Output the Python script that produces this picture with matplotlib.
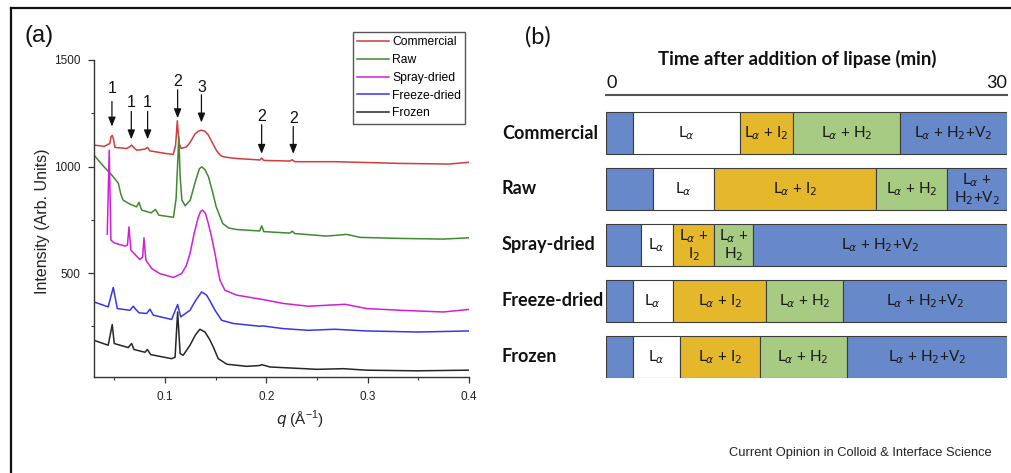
import matplotlib
matplotlib.use("Agg")
import matplotlib.pyplot as plt
from matplotlib.ticker import MultipleLocator
from matplotlib.transforms import blended_transform_factory
from matplotlib.lines import Line2D

# ---------------- Panel (a) data: SAXS curves ----------------
q_commercial = [0.030, 0.040, 0.0455, 0.0468, 0.0480, 0.0492, 0.0506, 0.0621, 0.0650, 0.0671, 0.0695, 0.0721,
                0.0803, 0.0829, 0.0850, 0.1000, 0.1082, 0.1105, 0.1122, 0.1138, 0.1160, 0.1214, 0.1250, 0.1296,
                0.1330, 0.1362, 0.1395, 0.1428, 0.1470, 0.1510, 0.1550, 0.1576, 0.1650, 0.1708, 0.1938, 0.1954,
                0.1975, 0.2230, 0.2255, 0.2280, 0.2676, 0.3320, 0.3800, 0.4000]
i_commercial = [1101, 1095, 1108, 1140, 1146, 1130, 1090, 1085, 1092, 1101, 1088, 1077,
                1082, 1090, 1074, 1062, 1057, 1100, 1215, 1110, 1085, 1093, 1115, 1153,
                1166, 1171, 1165, 1148, 1110, 1074, 1052, 1046, 1041, 1038, 1031, 1040,
                1029, 1026, 1032, 1023, 1023, 1015, 1012, 1020]

q_raw = [0.030, 0.036, 0.042, 0.048, 0.054, 0.0565, 0.0587, 0.065, 0.0720, 0.0744, 0.0770, 0.0864,
         0.0906, 0.0940, 0.1000, 0.1084, 0.1110, 0.1137, 0.1150, 0.1167, 0.1200, 0.1250, 0.1300, 0.1340,
         0.1363, 0.1395, 0.1430, 0.1470, 0.1506, 0.1570, 0.1630, 0.1703, 0.1934, 0.1955, 0.1975, 0.2231,
         0.2257, 0.2280, 0.2596, 0.2793, 0.2925, 0.3320, 0.3747, 0.4000]
i_raw = [1054, 1020, 988, 958, 922, 870, 843, 825, 811, 832, 796, 783,
         799, 772, 768, 762, 850, 1140, 950, 843, 816, 843, 930, 990,
         999, 985, 952, 880, 811, 733, 712, 705, 698, 722, 695, 688,
         697, 686, 674, 682, 668, 663, 660, 666]

q_spray = [0.0431, 0.0450, 0.0467, 0.0500, 0.0605, 0.0630, 0.0645, 0.0664, 0.0753, 0.0780, 0.0793, 0.0812,
           0.0869, 0.0950, 0.1082, 0.1165, 0.1210, 0.1247, 0.1290, 0.1330, 0.1352, 0.1372, 0.1400, 0.1428,
           0.1460, 0.1494, 0.1520, 0.1543, 0.1592, 0.1708, 0.1970, 0.2168, 0.2414, 0.2777, 0.2990, 0.3320,
           0.3747, 0.4000]
i_spray = [683, 1077, 655, 642, 627, 632, 717, 608, 564, 575, 666, 561,
           522, 498, 480, 498, 535, 592, 690, 764, 790, 796, 780, 733,
           670, 592, 520, 467, 420, 397, 376, 358, 345, 354, 334, 326,
           318, 330]

q_freeze = [0.030, 0.044, 0.0490, 0.0530, 0.0655, 0.0687, 0.0720, 0.0745, 0.0819, 0.0852, 0.0885, 0.1066,
            0.1125, 0.1155, 0.1247, 0.1300, 0.1362, 0.1411, 0.1450, 0.1494, 0.1560, 0.1675, 0.1938, 0.1960,
            0.2168, 0.2414, 0.2676, 0.2990, 0.3500, 0.4000]
i_freeze = [365, 342, 433, 334, 326, 345, 326, 314, 311, 331, 303, 283,
            353, 295, 326, 370, 412, 397, 365, 326, 279, 264, 251, 253,
            240, 232, 237, 229, 224, 229]

q_frozen = [0.030, 0.044, 0.0480, 0.0500, 0.0638, 0.0671, 0.0695, 0.0803, 0.0826, 0.0860, 0.1066, 0.1100,
            0.1125, 0.1150, 0.1180, 0.1247, 0.1300, 0.1345, 0.1395, 0.1440, 0.1477, 0.1526, 0.1610, 0.1807,
            0.1938, 0.1954, 0.2036, 0.2250, 0.2500, 0.2760, 0.2990, 0.3480, 0.4000]
i_frozen = [185, 162, 259, 170, 151, 170, 142, 129, 142, 118, 99, 106,
            318, 123, 115, 162, 210, 237, 224, 190, 154, 99, 73, 63,
            67, 71, 60, 55, 49, 52, 45, 42, 45]

series_names = ["Commercial", "Raw", "Spray-dried", "Freeze-dried", "Frozen"]
series_colors = ["#d23c3c", "#3f8a30", "#d21ed8", "#3636ee", "#262626"]

# peak annotations
ann_q = [0.0477, 0.0668, 0.0829, 0.1125, 0.1360, 0.1954, 0.2266]
ann_text = ["1", "1", "1", "2", "3", "2", "2"]
ann_text_y = [1368, 1301, 1301, 1400, 1373, 1235, 1227]
ann_tail_y = [1305, 1259, 1259, 1360, 1337, 1196, 1188]
ann_tip_y = [1188, 1128, 1128, 1227, 1207, 1060, 1060]

# ---------------- Panel (b) data: phase timeline (minutes) ----------------
rows = ["Commercial", "Raw", "Spray-dried", "Freeze-dried", "Frozen"]
dur_initial = [2.0, 3.5, 2.6, 2.0, 2.0]
dur_La = [8.0, 4.6, 2.4, 3.0, 3.5]
dur_LaI2 = [4.0, 12.1, 3.1, 7.0, 6.0]
dur_LaH2 = [8.0, 5.3, 2.9, 5.75, 6.5]
dur_LaH2V2 = [8.0, 4.5, 19.0, 12.25, 12.0]

lab_La = [r"L$_\alpha$"] * 5
lab_LaI2 = [r"L$_\alpha$ + I$_2$", r"L$_\alpha$ + I$_2$", "L$_\\alpha$ +\nI$_2$", r"L$_\alpha$ + I$_2$", r"L$_\alpha$ + I$_2$"]
lab_LaH2 = [r"L$_\alpha$ + H$_2$", r"L$_\alpha$ + H$_2$", "L$_\\alpha$ +\nH$_2$", r"L$_\alpha$ + H$_2$", r"L$_\alpha$ + H$_2$"]
lab_LaH2V2 = [r"L$_\alpha$ + H$_2$+V$_2$", "L$_\\alpha$ +\nH$_2$+V$_2$", r"L$_\alpha$ + H$_2$+V$_2$",
              r"L$_\alpha$ + H$_2$+V$_2$", r"L$_\alpha$ + H$_2$+V$_2$"]

c_blue = "#6889c9"
c_white = "#ffffff"
c_yellow = "#e5b82b"
c_green = "#a8cb83"

W, H = 1012, 473
fig = plt.figure(figsize=(W / 100, H / 100), dpi=100)

# outer frame (top and left edges visible)
fig.add_artist(Line2D([11 / W, 1.0], [1 - 8 / H, 1 - 8 / H], transform=fig.transFigure, color="#111111", lw=1.6))
fig.add_artist(Line2D([11 / W, 11 / W], [0, 1 - 8 / H], transform=fig.transFigure, color="#111111", lw=1.6))

# ---------------- Panel (a) ----------------
sans_a = "Liberation Sans"
ax = fig.add_axes([94 / W, 1 - 377 / H, (469 - 94) / W, (377 - 60) / H])
qs = [q_commercial, q_raw, q_spray, q_freeze, q_frozen]
Is = [i_commercial, i_raw, i_spray, i_freeze, i_frozen]
handles = []
for qv, iv, nm, col in zip(qs, Is, series_names, series_colors):
    ln, = ax.plot(qv, iv, color=col, lw=1.1, label=nm, solid_joinstyle="round")
    handles.append(ln)

ax.set_xlim(0.03, 0.4)
ax.set_ylim(13, 1500)
for s in ["top", "right"]:
    ax.spines[s].set_visible(False)
for s in ["left", "bottom"]:
    ax.spines[s].set_color("#333333")
    ax.spines[s].set_linewidth(1.0)
ax.xaxis.set_minor_locator(MultipleLocator(0.05))
ax.yaxis.set_minor_locator(MultipleLocator(250))
ax.set_xticks([0.1, 0.2, 0.3, 0.4])
ax.set_xticklabels(["0.1", "0.2", "0.3", "0.4"])
ax.set_yticks([500, 1000, 1500])
ax.set_yticklabels(["500", "1000", "1500"])
ax.tick_params(which="major", direction="out", length=4, width=0.9, color="#333333",
               labelsize=8.5, labelcolor="#222222", pad=6)
ax.tick_params(which="minor", direction="out", length=2.5, width=0.8, color="#333333")
for lab in ax.get_xticklabels() + ax.get_yticklabels():
    lab.set_family(sans_a)

for qa, t, ty, tt, tp in zip(ann_q, ann_text, ann_text_y, ann_tail_y, ann_tip_y):
    ax.text(qa, ty, t, ha="center", va="center", fontsize=11.5, family=sans_a, color="#111111")
    ax.annotate("", xy=(qa, tp), xytext=(qa, tt),
                arrowprops=dict(arrowstyle="-|>,head_length=0.55,head_width=0.22", color="#111111", lw=0.9,
                                shrinkA=0, shrinkB=0))

fig.legend(handles=handles, loc="upper left", bbox_to_anchor=(353 / W, 1 - 32 / H),
           prop={"family": sans_a, "size": 8.7}, frameon=True, fancybox=False, edgecolor="#555555",
           framealpha=1, handlelength=2.6, handletextpad=0.3, labelspacing=0.48, borderpad=0.35,
           borderaxespad=0)

fig.text(25 / W, 1 - 36 / H, "(a)", fontsize=17, family=sans_a, ha="left", va="center", color="#111111")
fig.text(43 / W, 1 - 221 / H, "Intensity (Arb. Units)", rotation=90, fontsize=11.5, family=sans_a,
         ha="center", va="center", color="#222222")
fig.text(300 / W, 1 - 420 / H, r"$q$ (Å$^{\mathregular{-1}}$)", fontsize=11, family=sans_a,
         ha="center", va="center", color="#222222")

# ---------------- Panel (b) ----------------
sans_b = "Lato"
bx = fig.add_axes([606 / W, 1 - 378 / H, (1007 - 606) / W, (378 - 95) / H])
bx.set_xlim(0, 30)
bx.set_ylim(4.38, -0.68)
ypos = list(range(len(rows)))
bar_h = 0.75
segments = [(dur_initial, c_blue, None), (dur_La, c_white, lab_La), (dur_LaI2, c_yellow, lab_LaI2),
            (dur_LaH2, c_green, lab_LaH2), (dur_LaH2V2, c_blue, lab_LaH2V2)]
left = [0.0] * len(rows)
for durs, col, labs in segments:
    bx.barh(ypos, durs, left=left, height=bar_h, color=col, edgecolor="#3c3c3c", linewidth=0.8)
    if labs is not None:
        for k in range(len(rows)):
            bx.text(left[k] + durs[k] / 2, ypos[k], labs[k], ha="center", va="center", fontsize=11,
                    family=sans_b, color="#1a1a1a", linespacing=1.0)
    left = [l + d for l, d in zip(left, durs)]

for s in ["bottom", "left", "right"]:
    bx.spines[s].set_visible(False)
bx.spines["top"].set_color("#555555")
bx.spines["top"].set_linewidth(1.5)
bx.set_xticks([])
bx.set_yticks([])

trans = blended_transform_factory(fig.transFigure, bx.transData)
for k, r in enumerate(rows):
    bx.text(502 / W, ypos[k], r, transform=trans, ha="left", va="center", fontsize=13,
            fontweight="bold", family=sans_b, color="#111111")

fig.text(606 / W + 1 / W, 1 - 83 / H, "0", fontsize=13, family=sans_b, ha="left", va="center", color="#111111")
fig.text(1007 / W, 1 - 83 / H, "30", fontsize=13, family=sans_b, ha="right", va="center", color="#111111")
fig.text(797 / W, 1 - 59 / H, "Time after addition of lipase (min)", fontsize=13.4, fontweight="bold",
         family=sans_b, ha="center", va="center", color="#111111")
fig.text(525 / W, 1 - 37 / H, "(b)", fontsize=17, family=sans_b, ha="left", va="center", color="#111111")

fig.text(992 / W, 1 - 453 / H, "Current Opinion in Colloid & Interface Science", fontsize=9.3,
         family=sans_a, ha="right", va="center", color="#222222")

fig.savefig("out.png", dpi=100)
